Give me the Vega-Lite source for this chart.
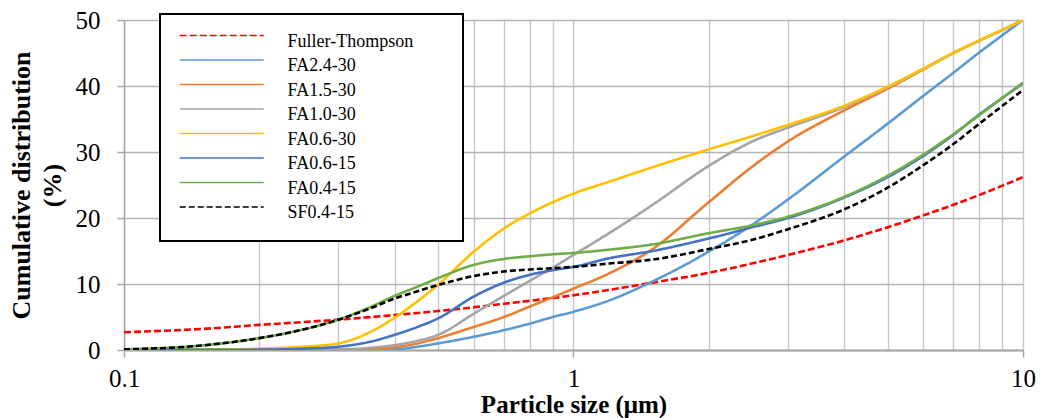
{
  "$schema": "https://vega.github.io/schema/vega-lite/v6.json",
  "width": 899,
  "height": 330,
  "autosize": {"type": "none"},
  "padding": {"left": 124, "top": 20, "right": 17, "bottom": 68},
  "background": "white",
  "config": {"view": {"stroke": null}, "font": "Liberation Serif", "legend": {"strokeWidth": 2}},
  "data": {"values": [
    {"series": "Fuller-Thompson", "size": 0.1, "pct": 2.7},
    {"series": "Fuller-Thompson", "size": 0.15, "pct": 3.2},
    {"series": "Fuller-Thompson", "size": 0.2, "pct": 3.8},
    {"series": "Fuller-Thompson", "size": 0.3, "pct": 4.6},
    {"series": "Fuller-Thompson", "size": 0.4, "pct": 5.3},
    {"series": "Fuller-Thompson", "size": 0.5, "pct": 5.9},
    {"series": "Fuller-Thompson", "size": 0.7, "pct": 7.0},
    {"series": "Fuller-Thompson", "size": 1, "pct": 8.3},
    {"series": "Fuller-Thompson", "size": 1.5, "pct": 10.2},
    {"series": "Fuller-Thompson", "size": 2, "pct": 11.7},
    {"series": "Fuller-Thompson", "size": 3, "pct": 14.4},
    {"series": "Fuller-Thompson", "size": 4, "pct": 16.6},
    {"series": "Fuller-Thompson", "size": 5, "pct": 18.6},
    {"series": "Fuller-Thompson", "size": 6, "pct": 20.4},
    {"series": "Fuller-Thompson", "size": 7, "pct": 22.0},
    {"series": "Fuller-Thompson", "size": 8, "pct": 23.5},
    {"series": "Fuller-Thompson", "size": 9, "pct": 24.9},
    {"series": "Fuller-Thompson", "size": 10, "pct": 26.2},

    {"series": "FA2.4-30", "size": 0.1, "pct": 0},
    {"series": "FA2.4-30", "size": 0.2, "pct": 0},
    {"series": "FA2.4-30", "size": 0.3, "pct": 0},
    {"series": "FA2.4-30", "size": 0.4, "pct": 0.1},
    {"series": "FA2.4-30", "size": 0.45, "pct": 0.5},
    {"series": "FA2.4-30", "size": 0.5, "pct": 1.0},
    {"series": "FA2.4-30", "size": 0.6, "pct": 2.0},
    {"series": "FA2.4-30", "size": 0.7, "pct": 3.0},
    {"series": "FA2.4-30", "size": 0.8, "pct": 4.0},
    {"series": "FA2.4-30", "size": 0.9, "pct": 5.0},
    {"series": "FA2.4-30", "size": 1, "pct": 5.8},
    {"series": "FA2.4-30", "size": 1.2, "pct": 7.5},
    {"series": "FA2.4-30", "size": 1.5, "pct": 10.4},
    {"series": "FA2.4-30", "size": 2, "pct": 14.9},
    {"series": "FA2.4-30", "size": 2.5, "pct": 19.0},
    {"series": "FA2.4-30", "size": 3, "pct": 22.8},
    {"series": "FA2.4-30", "size": 4, "pct": 29.3},
    {"series": "FA2.4-30", "size": 5, "pct": 34.3},
    {"series": "FA2.4-30", "size": 6, "pct": 38.5},
    {"series": "FA2.4-30", "size": 7, "pct": 42.0},
    {"series": "FA2.4-30", "size": 8, "pct": 45.1},
    {"series": "FA2.4-30", "size": 9, "pct": 47.7},
    {"series": "FA2.4-30", "size": 10, "pct": 50},

    {"series": "FA1.5-30", "size": 0.1, "pct": 0},
    {"series": "FA1.5-30", "size": 0.2, "pct": 0},
    {"series": "FA1.5-30", "size": 0.3, "pct": 0},
    {"series": "FA1.5-30", "size": 0.35, "pct": 0.1},
    {"series": "FA1.5-30", "size": 0.4, "pct": 0.4},
    {"series": "FA1.5-30", "size": 0.45, "pct": 1.0},
    {"series": "FA1.5-30", "size": 0.5, "pct": 1.8},
    {"series": "FA1.5-30", "size": 0.6, "pct": 3.5},
    {"series": "FA1.5-30", "size": 0.7, "pct": 5.0},
    {"series": "FA1.5-30", "size": 0.8, "pct": 6.6},
    {"series": "FA1.5-30", "size": 0.9, "pct": 8.0},
    {"series": "FA1.5-30", "size": 1, "pct": 9.3},
    {"series": "FA1.5-30", "size": 1.2, "pct": 11.6},
    {"series": "FA1.5-30", "size": 1.5, "pct": 15.3},
    {"series": "FA1.5-30", "size": 2, "pct": 22.4},
    {"series": "FA1.5-30", "size": 2.5, "pct": 27.8},
    {"series": "FA1.5-30", "size": 3, "pct": 31.6},
    {"series": "FA1.5-30", "size": 4, "pct": 36.3},
    {"series": "FA1.5-30", "size": 5, "pct": 39.6},
    {"series": "FA1.5-30", "size": 6, "pct": 42.5},
    {"series": "FA1.5-30", "size": 7, "pct": 45.0},
    {"series": "FA1.5-30", "size": 8, "pct": 46.9},
    {"series": "FA1.5-30", "size": 9, "pct": 48.5},
    {"series": "FA1.5-30", "size": 10, "pct": 50},

    {"series": "FA1.0-30", "size": 0.1, "pct": 0},
    {"series": "FA1.0-30", "size": 0.2, "pct": 0},
    {"series": "FA1.0-30", "size": 0.3, "pct": 0.1},
    {"series": "FA1.0-30", "size": 0.35, "pct": 0.3},
    {"series": "FA1.0-30", "size": 0.4, "pct": 0.75},
    {"series": "FA1.0-30", "size": 0.45, "pct": 1.4},
    {"series": "FA1.0-30", "size": 0.5, "pct": 2.3},
    {"series": "FA1.0-30", "size": 0.6, "pct": 5.5},
    {"series": "FA1.0-30", "size": 0.7, "pct": 8.2},
    {"series": "FA1.0-30", "size": 0.8, "pct": 10.5},
    {"series": "FA1.0-30", "size": 0.9, "pct": 12.5},
    {"series": "FA1.0-30", "size": 1, "pct": 14.4},
    {"series": "FA1.0-30", "size": 1.2, "pct": 17.7},
    {"series": "FA1.0-30", "size": 1.5, "pct": 22.0},
    {"series": "FA1.0-30", "size": 2, "pct": 27.9},
    {"series": "FA1.0-30", "size": 2.5, "pct": 31.6},
    {"series": "FA1.0-30", "size": 3, "pct": 33.7},
    {"series": "FA1.0-30", "size": 4, "pct": 36.8},
    {"series": "FA1.0-30", "size": 5, "pct": 39.8},
    {"series": "FA1.0-30", "size": 6, "pct": 42.6},
    {"series": "FA1.0-30", "size": 7, "pct": 45.0},
    {"series": "FA1.0-30", "size": 8, "pct": 46.9},
    {"series": "FA1.0-30", "size": 9, "pct": 48.5},
    {"series": "FA1.0-30", "size": 10, "pct": 50},

    {"series": "FA0.6-30", "size": 0.1, "pct": 0},
    {"series": "FA0.6-30", "size": 0.15, "pct": 0.05},
    {"series": "FA0.6-30", "size": 0.2, "pct": 0.2},
    {"series": "FA0.6-30", "size": 0.25, "pct": 0.5},
    {"series": "FA0.6-30", "size": 0.3, "pct": 1.0},
    {"series": "FA0.6-30", "size": 0.35, "pct": 2.6},
    {"series": "FA0.6-30", "size": 0.4, "pct": 4.9},
    {"series": "FA0.6-30", "size": 0.45, "pct": 7.4},
    {"series": "FA0.6-30", "size": 0.5, "pct": 9.9},
    {"series": "FA0.6-30", "size": 0.6, "pct": 14.9},
    {"series": "FA0.6-30", "size": 0.7, "pct": 18.4},
    {"series": "FA0.6-30", "size": 0.8, "pct": 20.7},
    {"series": "FA0.6-30", "size": 0.9, "pct": 22.4},
    {"series": "FA0.6-30", "size": 1, "pct": 23.7},
    {"series": "FA0.6-30", "size": 1.2, "pct": 25.5},
    {"series": "FA0.6-30", "size": 1.5, "pct": 27.7},
    {"series": "FA0.6-30", "size": 2, "pct": 30.4},
    {"series": "FA0.6-30", "size": 2.5, "pct": 32.4},
    {"series": "FA0.6-30", "size": 3, "pct": 34.1},
    {"series": "FA0.6-30", "size": 4, "pct": 37.0},
    {"series": "FA0.6-30", "size": 5, "pct": 39.9},
    {"series": "FA0.6-30", "size": 6, "pct": 42.6},
    {"series": "FA0.6-30", "size": 7, "pct": 45.0},
    {"series": "FA0.6-30", "size": 8, "pct": 46.9},
    {"series": "FA0.6-30", "size": 9, "pct": 48.5},
    {"series": "FA0.6-30", "size": 10, "pct": 50},

    {"series": "FA0.6-15", "size": 0.1, "pct": 0},
    {"series": "FA0.6-15", "size": 0.2, "pct": 0.05},
    {"series": "FA0.6-15", "size": 0.25, "pct": 0.2},
    {"series": "FA0.6-15", "size": 0.3, "pct": 0.5},
    {"series": "FA0.6-15", "size": 0.35, "pct": 1.2},
    {"series": "FA0.6-15", "size": 0.4, "pct": 2.3},
    {"series": "FA0.6-15", "size": 0.45, "pct": 3.5},
    {"series": "FA0.6-15", "size": 0.5, "pct": 4.8},
    {"series": "FA0.6-15", "size": 0.6, "pct": 8.1},
    {"series": "FA0.6-15", "size": 0.7, "pct": 10.2},
    {"series": "FA0.6-15", "size": 0.8, "pct": 11.4},
    {"series": "FA0.6-15", "size": 0.9, "pct": 12.1},
    {"series": "FA0.6-15", "size": 1, "pct": 12.6},
    {"series": "FA0.6-15", "size": 1.2, "pct": 13.9},
    {"series": "FA0.6-15", "size": 1.5, "pct": 15.0},
    {"series": "FA0.6-15", "size": 2, "pct": 16.9},
    {"series": "FA0.6-15", "size": 2.5, "pct": 18.6},
    {"series": "FA0.6-15", "size": 3, "pct": 20.0},
    {"series": "FA0.6-15", "size": 4, "pct": 23.1},
    {"series": "FA0.6-15", "size": 5, "pct": 26.2},
    {"series": "FA0.6-15", "size": 6, "pct": 29.4},
    {"series": "FA0.6-15", "size": 7, "pct": 32.6},
    {"series": "FA0.6-15", "size": 8, "pct": 35.7},
    {"series": "FA0.6-15", "size": 9, "pct": 38.2},
    {"series": "FA0.6-15", "size": 10, "pct": 40.4},

    {"series": "FA0.4-15", "size": 0.1, "pct": 0.1},
    {"series": "FA0.4-15", "size": 0.15, "pct": 0.7},
    {"series": "FA0.4-15", "size": 0.2, "pct": 1.8},
    {"series": "FA0.4-15", "size": 0.25, "pct": 3.1},
    {"series": "FA0.4-15", "size": 0.3, "pct": 4.6},
    {"series": "FA0.4-15", "size": 0.35, "pct": 6.4},
    {"series": "FA0.4-15", "size": 0.4, "pct": 8.2},
    {"series": "FA0.4-15", "size": 0.45, "pct": 9.6},
    {"series": "FA0.4-15", "size": 0.5, "pct": 10.9},
    {"series": "FA0.4-15", "size": 0.6, "pct": 12.9},
    {"series": "FA0.4-15", "size": 0.7, "pct": 13.8},
    {"series": "FA0.4-15", "size": 0.8, "pct": 14.2},
    {"series": "FA0.4-15", "size": 0.9, "pct": 14.5},
    {"series": "FA0.4-15", "size": 1, "pct": 14.7},
    {"series": "FA0.4-15", "size": 1.2, "pct": 15.2},
    {"series": "FA0.4-15", "size": 1.5, "pct": 16.0},
    {"series": "FA0.4-15", "size": 2, "pct": 17.7},
    {"series": "FA0.4-15", "size": 2.5, "pct": 18.9},
    {"series": "FA0.4-15", "size": 3, "pct": 20.2},
    {"series": "FA0.4-15", "size": 4, "pct": 23.2},
    {"series": "FA0.4-15", "size": 5, "pct": 26.4},
    {"series": "FA0.4-15", "size": 6, "pct": 29.6},
    {"series": "FA0.4-15", "size": 7, "pct": 32.7},
    {"series": "FA0.4-15", "size": 8, "pct": 35.6},
    {"series": "FA0.4-15", "size": 9, "pct": 38.2},
    {"series": "FA0.4-15", "size": 10, "pct": 40.5},

    {"series": "SF0.4-15", "size": 0.1, "pct": 0.1},
    {"series": "SF0.4-15", "size": 0.15, "pct": 0.7},
    {"series": "SF0.4-15", "size": 0.2, "pct": 1.8},
    {"series": "SF0.4-15", "size": 0.25, "pct": 3.1},
    {"series": "SF0.4-15", "size": 0.3, "pct": 4.6},
    {"series": "SF0.4-15", "size": 0.35, "pct": 6.2},
    {"series": "SF0.4-15", "size": 0.4, "pct": 7.8},
    {"series": "SF0.4-15", "size": 0.45, "pct": 8.9},
    {"series": "SF0.4-15", "size": 0.5, "pct": 9.85},
    {"series": "SF0.4-15", "size": 0.6, "pct": 11.2},
    {"series": "SF0.4-15", "size": 0.7, "pct": 11.9},
    {"series": "SF0.4-15", "size": 0.8, "pct": 12.2},
    {"series": "SF0.4-15", "size": 0.9, "pct": 12.4},
    {"series": "SF0.4-15", "size": 1, "pct": 12.6},
    {"series": "SF0.4-15", "size": 1.2, "pct": 13.1},
    {"series": "SF0.4-15", "size": 1.5, "pct": 13.7},
    {"series": "SF0.4-15", "size": 2, "pct": 15.3},
    {"series": "SF0.4-15", "size": 2.5, "pct": 16.7},
    {"series": "SF0.4-15", "size": 3, "pct": 18.3},
    {"series": "SF0.4-15", "size": 4, "pct": 21.3},
    {"series": "SF0.4-15", "size": 5, "pct": 24.6},
    {"series": "SF0.4-15", "size": 6, "pct": 28.0},
    {"series": "SF0.4-15", "size": 7, "pct": 31.2},
    {"series": "SF0.4-15", "size": 8, "pct": 34.3},
    {"series": "SF0.4-15", "size": 9, "pct": 37.0},
    {"series": "SF0.4-15", "size": 10, "pct": 39.4}
  ]},
  "mark": {"type": "line", "interpolate": "monotone", "strokeWidth": 2.6, "clip": true},
  "encoding": {
    "x": {
      "field": "size",
      "type": "quantitative",
      "scale": {"type": "log", "domain": [0.1, 10]},
      "axis": {
        "values": [0.1, 0.2, 0.3, 0.4, 0.5, 0.6, 0.7, 0.8, 0.9, 1, 2, 3, 4, 5, 6, 7, 8, 9, 10],
        "labelExpr": "datum.value == 0.1 ? '0.1' : (datum.value == 1 ? '1' : (datum.value == 10 ? '10' : ''))",
        "tickSize": 7,
        "tickColor": "#a6a6a6",
        "tickWidth": 1.5,
        "tickOpacity": {"condition": {"test": "datum.value == 0.1 || datum.value == 1 || datum.value == 10", "value": 1}, "value": 0},
        "grid": true,
        "gridColor": "#c8c8c8",
        "gridWidth": 1.4,
        "domainColor": "#a6a6a6",
        "domainWidth": 2,
        "labelFont": "Liberation Serif",
        "labelFontSize": 25,
        "labelColor": "black",
        "labelPadding": 9,
        "labelFlush": false,
        "labelOverlap": false,
        "labelBound": false,
        "title": "Particle size (μm)",
        "titleFont": "Liberation Serif",
        "titleFontSize": 25,
        "titleFontWeight": "bold",
        "titleColor": "black",
        "titlePadding": 1
      }
    },
    "y": {
      "field": "pct",
      "type": "quantitative",
      "scale": {"domain": [0, 50], "nice": false},
      "axis": {
        "values": [0, 10, 20, 30, 40, 50],
        "tickSize": 7,
        "tickColor": "#a6a6a6",
        "tickWidth": 1.5,
        "grid": true,
        "gridColor": "#b4b4b4",
        "gridWidth": 1.4,
        "domainColor": "#a6a6a6",
        "domainWidth": 1.5,
        "labelFont": "Liberation Serif",
        "labelFontSize": 25,
        "labelColor": "black",
        "labelPadding": 17,
        "title": ["Cumulative distribution", "(%)"],
        "titleFont": "Liberation Serif",
        "titleFontSize": 26,
        "titleFontWeight": "bold",
        "titleColor": "black",
        "titleLineHeight": 31,
        "titlePadding": 10
      }
    },
    "color": {
      "field": "series",
      "type": "nominal",
      "sort": null,
      "scale": {
        "domain": ["Fuller-Thompson", "FA2.4-30", "FA1.5-30", "FA1.0-30", "FA0.6-30", "FA0.6-15", "FA0.4-15", "SF0.4-15"],
        "range": ["#ff0000", "#5b9bd5", "#ed7d31", "#a5a5a5", "#ffc000", "#4472c4", "#70ad47", "#000000"]
      },
      "legend": {
        "orient": "none",
        "legendX": 36,
        "legendY": -6,
        "title": null,
        "symbolType": "M-1.41,-1.1H13.86",
        "symbolSize": 121,
        "symbolStrokeWidth": 1.5,
        "symbolOffset": 0,
        "labelOffset": 91,
        "labelFont": "Liberation Serif",
        "labelFontSize": 18,
        "labelColor": "black",
        "labelBaseline": "middle",
        "labelLimit": 500,
        "labelExpr": "datum.label + '\u2003\u2002\u2009\u200b'",
        "padding": 18.5,
        "rowPadding": 5.5,
        "strokeColor": "black",
        "fillColor": "white",
        "cornerRadius": 0
      }
    },
    "strokeDash": {
      "field": "series",
      "type": "nominal",
      "sort": null,
      "scale": {
        "domain": ["Fuller-Thompson", "FA2.4-30", "FA1.5-30", "FA1.0-30", "FA0.6-30", "FA0.6-15", "FA0.4-15", "SF0.4-15"],
        "range": [[7, 3], [1, 0], [1, 0], [1, 0], [1, 0], [1, 0], [1, 0], [6, 3]]
      }
    }
  }
}
